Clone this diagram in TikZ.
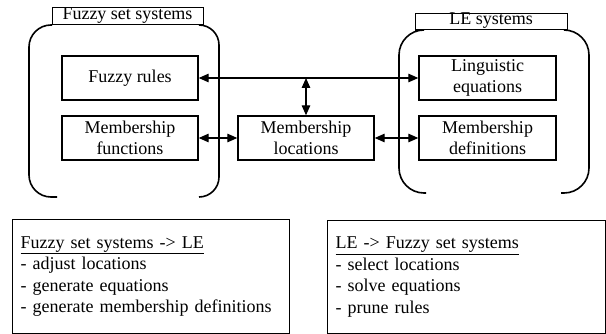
\documentclass[tikz,border=0pt]{standalone}
\usepackage{fontspec}
\setmainfont{Liberation Serif}
\usetikzlibrary{arrows.meta}
\begin{document}
\begin{tikzpicture}[x=1pt,y=-1pt,
  every node/.style={font=\fontsize{18}{21.5}\selectfont},
  inbox/.style={draw,line width=1.4pt,minimum width=136pt,minimum height=44pt,align=center,inner sep=0pt},
  titlebox/.style={draw,line width=0.9pt,inner sep=0pt,align=center},
  frame/.style={line width=1.6pt},
  arr/.style={line width=1.3pt,{Triangle[length=10pt,width=8.5pt]}-{Triangle[length=10pt,width=8.5pt]}},
  listbox/.style={draw,line width=1.3pt,align=left,anchor=north west,inner xsep=8pt,inner ysep=0pt}]
\useasboundingbox[fill=white] (0,0) rectangle (606,334);
% title boxes
\node[titlebox,minimum width=151pt,minimum height=17pt] (t1) at (127.5,15.5) {Fuzzy set systems};
\node[titlebox,minimum width=152pt,minimum height=16pt] (t2) at (491,21) {LE systems};
% brackets
\draw[frame,rounded corners=22pt] (57,197) -- (29,197) -- (29,25) -- (52,25);
\draw[frame,rounded corners=20pt] (199,197) -- (219,197) -- (219,25) -- (203,25);
\draw[frame,rounded corners=25pt] (426,193) -- (399,193) -- (399,30) -- (415,30);
\draw[frame,rounded corners=25pt] (561,193) -- (589,193) -- (589,30) -- (567,30);
% inner boxes
\node[inbox] (fr) at (130,78) {Fuzzy rules};
\node[inbox] (mf) at (130,138) {Membership\\functions};
\node[inbox] (ml) at (306,138) {Membership\\locations};
\node[inbox,minimum width=137pt] (le) at (487.5,78) {Linguistic\\equations};
\node[inbox,minimum width=137pt] (md) at (487.5,138) {Membership\\definitions};
% connectors
\coordinate (j) at (306,78);
\draw[arr] (fr.east) -- (le.west);
\draw[arr] (ml.north) -- (j);
\draw[arr] (mf.east) -- (ml.west);
\draw[arr] (ml.east) -- (md.west);
% bottom boxes
\node[listbox,minimum width=277pt,minimum height=114pt,text width=261pt] (b1) at (12,219)
  {\underline{Fuzzy set systems -> LE}\\- adjust locations\\- generate equations\\- generate membership definitions};
\node[listbox,minimum width=278pt,minimum height=113pt,text width=262pt] (b2) at (327,220)
  {\underline{LE -> Fuzzy set systems}\\- select locations\\- solve equations\\- prune rules};
\end{tikzpicture}
\end{document}
